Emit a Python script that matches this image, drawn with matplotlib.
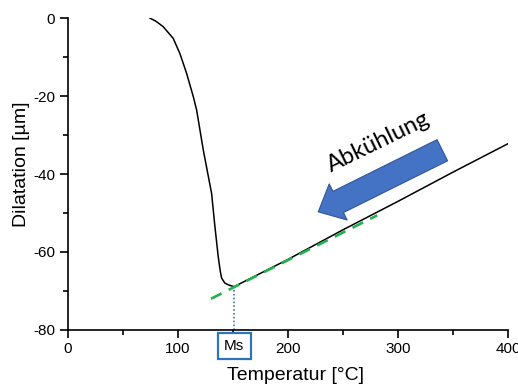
import matplotlib.pyplot as plt
from matplotlib.ticker import MultipleLocator

plt.rcParams['font.family'] = ['Liberation Sans', 'DejaVu Sans']
plt.rcParams['axes.unicode_minus'] = False

# Dilatometerkurve beim Abkühlen (Temperatur in °C, Dilatation in µm)
temp = [74.5, 80, 86.6, 95.7, 101.8, 107.9, 114, 117, 123, 130.6, 133.6, 136.6, 138.5,
        139.7, 142.7, 146.5, 151, 200, 250, 300, 350, 400]
dil = [0, -0.8, -2.2, -5.2, -9.1, -14.2, -20.2, -23.6, -33.8, -45, -53.5, -61.2, -65.0,
       -66.7, -68.0, -68.5, -68.9, -61.9, -54.3, -47.0, -39.5, -32.2]

# lineare Anpassung im austenitischen Bereich
fit_T = [130, 281]
fit_D = [-72.0, -50.6]

Ms = 151
Ms_D = -68.9

fig = plt.figure(figsize=(5.18, 3.85), dpi=100)
ax = fig.add_axes([0.131, 0.143, 0.850, 0.810])

ax.plot(temp, dil, color='black', lw=1.1, zorder=3)
ax.plot(fit_T, fit_D, color='#22b24c', lw=1.9, ls=(0, (4.5, 3)), zorder=4)
ax.plot([Ms, Ms], [-80, Ms_D], color='#4472c4', lw=1.2, ls=(0, (1, 1.3)), zorder=2)

ax.set_xlim(0, 400)
ax.set_ylim(-80, 0)
ax.xaxis.set_major_locator(MultipleLocator(100))
ax.xaxis.set_minor_locator(MultipleLocator(50))
ax.yaxis.set_major_locator(MultipleLocator(20))
ax.yaxis.set_minor_locator(MultipleLocator(10))
ax.spines['top'].set_visible(False)
ax.spines['right'].set_visible(False)
for s in ('left', 'bottom'):
    ax.spines[s].set_linewidth(1.2)
ax.tick_params(which='major', direction='out', length=6, width=1.2, labelsize=11, pad=3)
ax.tick_params(which='minor', direction='out', length=3.5, width=1.2)

ax.set_xlabel('Temperatur [°C]', fontsize=14)
ax.set_ylabel('Dilatation [µm]', fontsize=14)
ax.xaxis.set_label_coords(0.518, -0.12)
ax.yaxis.set_label_coords(-0.085, 0.53)

# Ms-Markierung unter der Achse
ax.annotate('Ms', xy=(Ms, -80), xytext=(0, -11.5), textcoords='offset points',
            ha='center', va='center', fontsize=11, annotation_clip=False,
            bbox=dict(boxstyle='square,pad=0.42', fc='white', ec='#2e75b6', lw=1.6))

# Pfeil "Abkühlung"
ax.annotate('', xy=(227.5, -49.7), xytext=(340.2, -33.9),
            arrowprops=dict(arrowstyle='simple,head_width=1.45,head_length=0.8,tail_width=0.85',
                            fc='#4472c4', ec='#2f5597', lw=0.8, mutation_scale=20,
                            shrinkA=0, shrinkB=0))
ax.text(282.5, -31.8, 'Abkühlung', rotation=26, ha='center', va='center', fontsize=17,
        family=['Lato', 'DejaVu Sans'])

fig.savefig('out.png', dpi=100)
